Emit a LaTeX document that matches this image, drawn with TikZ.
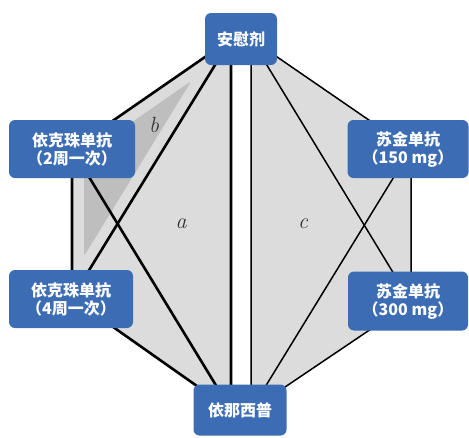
\documentclass[tikz,border=0pt]{standalone}
\usepackage{fontspec}
\newfontfamily\cjk{Noto Sans CJK SC}
\usetikzlibrary{backgrounds}

\definecolor{boxblue}{RGB}{59,108,180}
\definecolor{fillgray}{RGB}{220,220,220}
\definecolor{trigray}{RGB}{190,190,190}

\begin{document}
\begin{tikzpicture}[x=1pt,y=-1pt,
  drug/.style={fill=boxblue, rounded corners=6pt, text=white,
    font=\cjk\bfseries\fontsize{16}{18}\selectfont, align=center, inner sep=0pt},
  heavy/.style={line width=2.6pt, line join=round},
  light/.style={line width=1.5pt, line join=round},
  lab/.style={text=black!80, inner sep=0pt, font=\fontsize{22}{22}\selectfont\itshape}]
\useasboundingbox (0,0) rectangle (469,437);

% treatment boxes
\node[drug, minimum width=72pt, minimum height=52pt] (pbo) at (241,39) {安慰剂};
\node[drug, minimum width=126pt, minimum height=58pt] (ixe2) at (72,149) {依克珠单抗\\（2周一次）};
\node[drug, minimum width=124pt, minimum height=58pt] (ixe4) at (71,299) {依克珠单抗\\（4周一次）};
\node[drug, minimum width=93pt, minimum height=51pt] (eta) at (240,410) {依那西普};
\node[drug, minimum width=121pt, minimum height=58pt] (sec150) at (408,149) {苏金单抗\\（150 mg）};
\node[drug, minimum width=120pt, minimum height=59pt] (sec300) at (408,301) {苏金单抗\\（300 mg）};

% attachment points of the two networks
\coordinate (pL) at ([xshift=-10pt]pbo.center);
\coordinate (pR) at ([xshift=10pt]pbo.center);
\coordinate (eL) at ([xshift=-9pt]eta.center);
\coordinate (eR) at ([xshift=11pt]eta.center);
\coordinate (i2) at ([xshift=0pt]ixe2.center);
\coordinate (i4) at ([xshift=1pt,yshift=1pt]ixe4.center);
\coordinate (s1) at ([xshift=3pt]sec150.center);
\coordinate (s3) at ([xshift=3pt,yshift=-1pt]sec300.center);

\begin{scope}[on background layer]
  % shaded regions
  \fill[fillgray] (pL) -- (i2) -- (i4) -- (eL) -- cycle;
  \fill[fillgray] (pR) -- (s1) -- (s3) -- (eR) -- cycle;
  \fill[trigray, rounded corners=3pt] (191.3,81) -- (84,155.3) -- (84,256.2) -- cycle;
  % ixekizumab network
  \draw[heavy] (pL) -- (i2) -- (i4) -- (eL) -- cycle;
  \draw[heavy] (pL) -- (i4);
  \draw[heavy] (i2) -- (eL);
  % secukinumab network
  \draw[light] (pR) -- (s1) -- (s3) -- (eR) -- cycle;
  \draw[light] (pR) -- (s3);
  \draw[light] (s1) -- (eR);
\end{scope}

\node[lab] (la) at (181,224) {a};
\node[lab] (lb) at (154,125) {b};
\node[lab] (lc) at (303,224) {c};
\end{tikzpicture}
\end{document}
